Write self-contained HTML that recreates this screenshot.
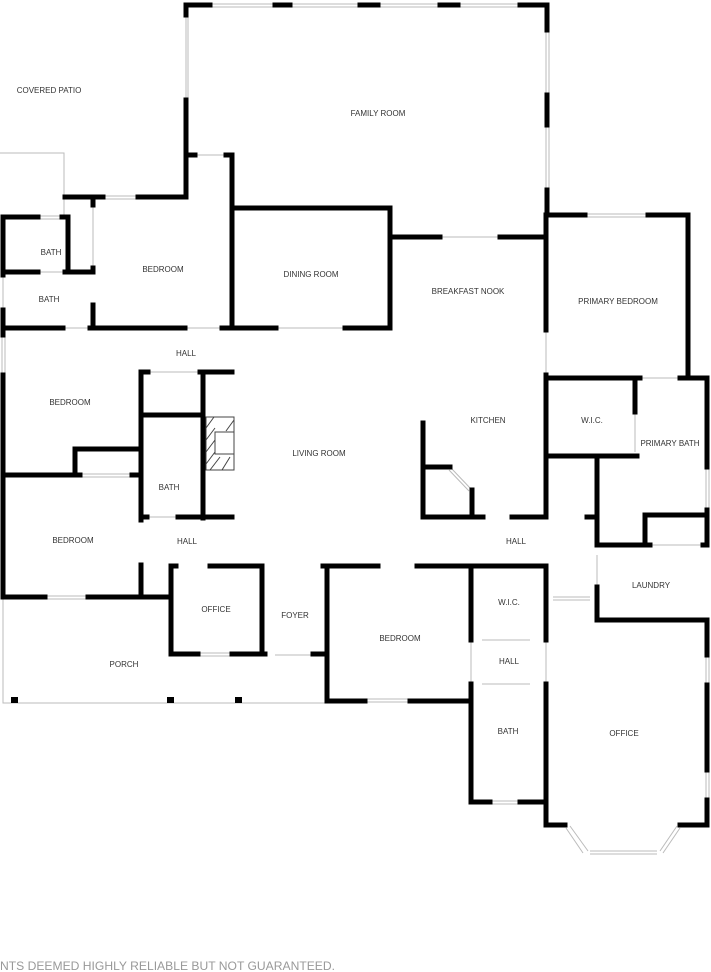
<!DOCTYPE html>
<html><head><meta charset="utf-8"><style>
html,body{margin:0;padding:0;background:#fff;}
svg{display:block}
text{font-family:"Liberation Sans",sans-serif;font-size:8px;fill:#333;text-anchor:middle;dominant-baseline:middle}
</style></head><body>
<svg width="711" height="972" viewBox="0 0 711 972" xmlns="http://www.w3.org/2000/svg">
<g stroke="#bbb" stroke-width="1" fill="none">
<path d="M0 153H64V217"/>
<path d="M3 597V703H327"/>
<path d="M186 15V100M188 15V100"/>
<path d="M210 4H275M290 4H360M378 4H440M458 4H520M210 7H275M290 7H360M378 7H440M458 7H520"/>
<path d="M546 30V95M549 30V95M546 125V190M549 125V190"/>
<path d="M195 155H226M440 237H500M585 214H648M585 217H648"/>
<path d="M103 196H138M103 199H138M38 216H62M38 219H62"/>
<path d="M93 205V268M38 272H65M63 328H90M185 328H222M276 328H345"/>
<path d="M2 335V375M5 335V375M3 275V310"/>
<path d="M148 372H200M80 474H132M80 477H132M147 517H178"/>
<path d="M45 596H88M45 599H88M198 653H232M198 656H232M275 655H312"/>
<path d="M365 699H410M365 702H410M490 801H520M490 804H520"/>
<path d="M546 330V375M640 378H680M635 412V452M706 467V510M709 467V510"/>
<path d="M650 545H703M597 555V585M553 597H590M553 600H590"/>
<path d="M706 655V685M709 655V685M706 770V800M709 770V800"/>
<path d="M471 640V684M546 640V684M482 640H530M482 684H530"/>
<path d="M583 853L566 828M588 851L570 826M590 851H657M590 854H657M660 851L677 826M663 853L680 828"/>
<path d="M451 468L471 489M449 470L469 491" stroke-width="1"/>
</g>
<g stroke="#000" stroke-width="5" fill="none" stroke-linecap="square">
<path d="M186 5V15M186 100V195M186 5H210M275 5H290M360 5H378M440 5H458M520 5H547V30M547 95V125M547 190V215"/>
<path d="M186 155H195M226 155H232V208"/>
<path d="M65 197H103M138 197H186V155"/>
<path d="M232 208H390V237H440M500 237H546"/>
<path d="M390 237V328"/>
<path d="M3 217H38M62 217H68V272M3 272H38M65 272H93M3 217V275M3 310V335M3 375V597"/>
<path d="M93 268V272M93 305V328M93 200V205"/>
<path d="M3 328H63M90 328H185M222 328H276M345 328H390"/>
<path d="M232 208V328"/>
<path d="M141 372V520M141 372H148M200 372H232M203 372V518M141 415H203"/>
<path d="M75 449H141M75 449V475M3 475H80M132 475H141"/>
<path d="M141 517H147M178 517H232"/>
<path d="M141 565V597M3 597H45M88 597H168"/>
<path d="M171 566V654H198M232 654H262V566H210M171 566H176"/>
<path d="M262 654H265M313 654H327"/>
<path d="M327 566V701H365M410 701H471M323 566H378M417 566H546"/>
<path d="M471 566V640M471 684V802H490M520 802H546V684M546 640V566"/>
<path d="M546 800V825H565M680 825H707V800M707 770V685M707 655V620"/>
<path d="M546 215H585M648 215H688V378H707V467M707 510V545H703M680 378H688M547 378H640M635 378V412"/>
<path d="M546 215V330M546 375V517H512M547 456H637M597 456V545H650M645 545V515H707"/>
<path d="M597 587V620H707"/>
<path d="M423 423V517H483M423 467H450M472 490V517M587 517H597"/>
<path d="M546 597V600M597 597V600"/>
</g>
<g fill="#000"><rect x="11" y="697" width="7" height="6"/><rect x="167" y="697" width="7" height="6"/><rect x="235" y="697" width="7" height="6"/></g>
<g stroke="#444" stroke-width="1" fill="none">
<rect x="206" y="417" width="28" height="53"/><rect x="215" y="432" width="19" height="22"/>
<path d="M206 428L214 417M206 440L215 428M206 452L215 440M206 464L215 452M210 470L220 457M222 470L230 457M226 431L234 420"/>
</g>
<text x="49" y="91">COVERED PATIO</text>
<text x="378" y="114">FAMILY ROOM</text>
<text x="51" y="253">BATH</text>
<text x="49" y="300">BATH</text>
<text x="163" y="270">BEDROOM</text>
<text x="311" y="275">DINING ROOM</text>
<text x="468" y="292">BREAKFAST NOOK</text>
<text x="618" y="302">PRIMARY BEDROOM</text>
<text x="186" y="354">HALL</text>
<text x="70" y="403">BEDROOM</text>
<text x="319" y="454">LIVING ROOM</text>
<text x="488" y="421">KITCHEN</text>
<text x="592" y="421">W.I.C.</text>
<text x="670" y="444">PRIMARY BATH</text>
<text x="169" y="488">BATH</text>
<text x="73" y="541">BEDROOM</text>
<text x="187" y="542">HALL</text>
<text x="516" y="542">HALL</text>
<text x="651" y="586">LAUNDRY</text>
<text x="216" y="610">OFFICE</text>
<text x="295" y="616">FOYER</text>
<text x="400" y="639">BEDROOM</text>
<text x="509" y="603">W.I.C.</text>
<text x="509" y="662">HALL</text>
<text x="124" y="665">PORCH</text>
<text x="508" y="732">BATH</text>
<text x="624" y="734">OFFICE</text>
<text x="0" y="967" textLength="335" lengthAdjust="spacingAndGlyphs" style="font-size:12px;fill:#999;text-anchor:start">NTS DEEMED HIGHLY RELIABLE BUT NOT GUARANTEED.</text>
</svg>
</body></html>
